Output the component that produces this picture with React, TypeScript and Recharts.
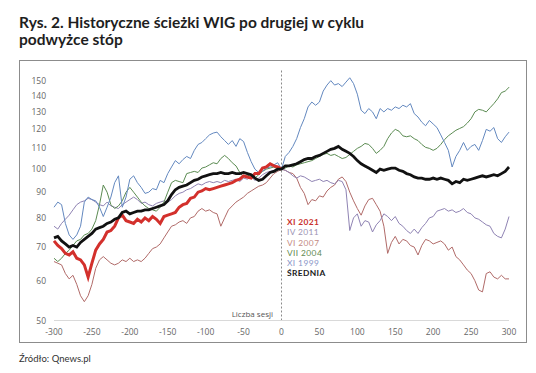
import React from 'react';
import { LineChart, Line, XAxis, YAxis, ReferenceLine } from 'recharts';

const sessions = [
  -300, -295, -290, -285, -280, -275, -270, -265, -260, -255,
  -250, -245, -240, -235, -230, -225, -220, -215, -210, -205,
  -200, -195, -190, -185, -180, -175, -170, -165, -160, -155,
  -150, -145, -140, -135, -130, -125, -120, -115, -110, -105,
  -100, -95, -90, -85, -80, -75, -70, -65, -60, -55,
  -50, -45, -40, -35, -30, -25, -20, -15, -10, -5,
  0, 5, 10, 15, 20, 25, 30, 35, 40, 45,
  50, 55, 60, 65, 70, 75, 80, 85, 90, 95,
  100, 105, 110, 115, 120, 125, 130, 135, 140, 145,
  150, 155, 160, 165, 170, 175, 180, 185, 190, 195,
  200, 205, 210, 215, 220, 225, 230, 235, 240, 245,
  250, 255, 260, 265, 270, 275, 280, 285, 290, 295,
  300,
];

// XI 2021 (only up to session 0)
const xi2021 = [
  72, 70.5, 69.5, 68, 67.5, 68.5, 66.5, 66, 64.5, 61,
  65, 69, 71, 72.5, 75, 75.5, 77, 80, 81, 79,
  78.5, 78, 79.5, 78.5, 80, 79, 80.5, 79.5, 78, 80.5,
  81, 81.5, 82, 84, 85, 85.5, 87.5, 88, 90, 90.5,
  91.5, 91, 91.5, 92, 92.5, 93, 93.5, 94, 95, 95.5,
  97, 96.5, 96, 98, 98, 100.5, 101, 102.5, 101.5, 101,
  100,
];

const iv2011 = [
  77, 76, 78, 79.5, 81, 83, 85, 86, 86.5, 87.5,
  87, 86, 85, 84.5, 86, 84.5, 84, 83.5, 85, 86,
  87, 88, 87, 85.5, 86, 85, 84.5, 85.5, 86, 86.5,
  86, 87, 88.5, 89.5, 90, 91, 91.5, 92.5, 93.5, 93,
  94, 94.5, 94, 94.5, 94, 95, 94.5, 95, 95.5, 94.5,
  96, 95.5, 96.5, 95, 96, 97.5, 98.5, 99, 99.5, 100.5,
  100,
  99.5, 98.5, 97, 96, 97, 96.5, 95.5, 94.5, 95, 95.5,
  94.5, 95, 94, 93.5, 95, 94.5, 91, 75.5, 80, 81.5,
  77, 79, 78.5, 75, 77.5, 79, 81.5, 80.5, 79, 80.5,
  78, 77, 75.5, 74.5, 76, 74.5, 76.5, 78, 80, 80.5,
  82.5, 83, 83.5, 82.5, 83, 82, 82.5, 83.5, 82, 81.5,
  80, 79.5, 78.5, 77.5, 77, 74.5, 73.5, 73, 76, 80.5,
];

const vi2007 = [
  65.5, 65, 64.5, 62, 60.5, 61.5, 59, 56, 54.5, 56,
  59, 63.5, 66, 67, 66, 65, 64.5, 65, 66, 65.5,
  66.5, 65.5, 66, 65.5, 66.5, 68, 69.5, 70, 71, 73,
  75, 77, 77.5, 78.5, 79, 78, 80, 80.5, 82.5, 83.5,
  82.5, 83, 82, 81.5, 77, 80, 83, 84.5, 86, 87,
  88, 89.5, 90.5, 91.5, 92.5, 93, 94, 96, 98, 99,
  100,
  99.5, 98.5, 98, 96, 92, 89.5, 85, 87, 86.5, 88.5,
  88, 90.5, 92, 93, 95.5, 96.5, 94.5, 90, 86.5, 83.5,
  81, 84.5, 87, 87.5, 85, 82.5, 77, 68, 71.5, 73.5,
  71, 72.5, 72, 70.5, 70, 67.5, 70.5, 72.5, 72, 71,
  71.5, 72, 71, 69, 70, 67, 66, 64.5, 63, 62,
  60, 57.5, 57, 62, 62.5, 61, 60.5, 61.5, 60.5, 60.5,
];

const vii2004 = [
  66.5, 65.5, 66.5, 68, 69, 70.5, 72, 72.5, 74, 74.5,
  76, 79, 85, 93, 90, 85, 83.5, 84.5, 86.5, 90,
  92, 90, 88, 86, 84.5, 83.5, 83, 82.5, 84, 86,
  90, 94, 95, 94.5, 94, 98, 98.5, 99, 98.5, 100.5,
  101, 102, 103, 102.5, 105, 106.5, 105, 103, 101.5, 98.5,
  96.5, 97, 97.5, 96, 97.5, 99, 100, 100.5, 101, 100,
  100,
  100.5, 101.5, 101, 102, 102.5, 103, 103.5, 104, 105, 106,
  107, 107.5, 106.5, 107, 106, 105, 105.5, 107, 108.5, 110,
  111, 112.5, 112, 110, 107.5, 109, 111, 115, 118, 120,
  119, 116.5, 116, 116.5, 115, 114, 112, 110.5, 110, 109,
  110, 112, 114.5, 116.5, 118, 119.5, 120.5, 121.5, 123.5, 126,
  130, 131.5, 131, 130, 132.5, 135, 138, 142, 143, 145.5,
];

const xi1999 = [
  84, 86, 85, 78, 74, 72.5, 74, 77, 86, 88,
  87, 86.5, 84, 80.5, 84, 88, 94, 97, 84, 88,
  95.5, 97, 94, 92, 89.5, 90, 91.5, 91, 95, 94,
  98, 101, 104, 102.5, 104.5, 106, 105, 109, 112, 113,
  115, 117, 118, 118.5, 116, 114, 112, 114, 111, 115,
  113.5, 108, 103.5, 100, 98.5, 99, 100.5, 101, 102, 103,
  100,
  106, 108, 111, 115, 121, 126, 133, 136, 134, 136,
  143, 147, 150, 147, 148, 146, 149, 152, 148, 141,
  131, 129, 132, 130, 126, 132, 130, 132, 131, 133,
  132, 134, 133, 135, 129, 127, 124, 122, 125, 123,
  121, 117, 113, 109, 101, 106, 109, 113, 109, 111,
  112, 109, 114, 120, 119, 121, 115, 113, 116, 118.5,
];

const srednia = [
  73, 73.5, 72, 71, 70, 70.5, 70, 71.5, 72.5, 73.5,
  74.5, 76, 76.5, 77, 78, 78.5, 79.5, 80, 82, 82.5,
  81.5, 82, 82.5, 82.5, 83, 83, 83.5, 84, 84.5, 85,
  86.5, 89, 91, 92, 92.5, 93, 94, 95, 95.5, 96.5,
  97, 97.5, 98, 98, 98.5, 98, 98, 98.5, 98, 98,
  98.5, 98, 97.5, 96, 95, 95.5, 97, 98.5, 99, 100,
  100,
  101.5, 101.5, 102, 102.5, 103.5, 104.5, 105, 105, 106, 106.5,
  107.5, 108.5, 109.5, 110, 111, 109.5, 108.5, 107.5, 106, 104,
  102.5, 101.5, 100.5, 99.5, 98.5, 100, 99.5, 100, 100.5, 100.5,
  99.5, 99, 98, 97.5, 96.5, 96, 96, 95.5, 95.5, 96,
  95.5, 96, 95.5, 95, 93.5, 94.5, 94, 95.5, 95, 95.5,
  96, 96.5, 97, 96.5, 97, 97.5, 97, 98, 99, 101,
];

const xTicks = [-300, -250, -200, -150, -100, -50, 0, 50, 100, 150, 200, 250, 300];
const yTicks = [50, 60, 70, 80, 90, 100, 110, 120, 130, 140, 150];

const legendLabels = ['XI 2021', 'IV 2011', 'VI 2007', 'VII 2004', 'XI 1999', 'ŚREDNIA'];
const legendColors = ['#c9302c', '#9c93b4', '#c48a84', '#5f8a4f', '#8a96c8', '#1a1a1a'];
const legendBold = [true, false, false, false, false, true];

const rows = sessions.map((s, i) => ({
  s,
  xi2021: i < xi2021.length ? xi2021[i] : undefined,
  iv2011: iv2011[i],
  vi2007: vi2007[i],
  vii2004: vii2004[i],
  xi1999: xi1999[i],
  srednia: srednia[i],
}));

const tickFont = { fontSize: 8.5, fill: '#666', fontFamily: '"Open Sans", sans-serif' };

export default function App() {
  return (
    <div style={{ position: 'absolute', left: 0, top: 0, width: 536, height: 373, background: '#fff', overflow: 'hidden' }}>
      <div
        style={{
          position: 'absolute', left: 19, top: 14, fontFamily: 'Lato, sans-serif', fontWeight: 700,
          fontSize: 15.5, lineHeight: '17px', color: '#1e1e1e', whiteSpace: 'nowrap',
        }}
      >
        Rys. 2. Historyczne ścieżki WIG po drugiej w cyklu
        <br />
        podwyżce stóp
      </div>
      <div
        style={{
          position: 'absolute', left: 19, top: 60, width: 508, height: 283,
          border: '1px solid #8c8c8c', boxSizing: 'border-box',
        }}
      />
      <div style={{ position: 'absolute', left: 0, top: 0 }}>
        <LineChart width={536} height={373} data={rows} margin={{ top: 70, right: 27, bottom: 32.5, left: 14 }}>
          <XAxis
            dataKey="s"
            type="number"
            domain={[-300, 300]}
            ticks={xTicks}
            tickLine={false}
            axisLine={{ stroke: '#d9d9d9' }}
            tick={tickFont}
            height={20}
            interval={0}
          />
          <YAxis
            scale="log"
            domain={[50, 157.5]}
            ticks={yTicks}
            allowDataOverflow
            tickLine={false}
            axisLine={false}
            tick={tickFont}
            width={40}
            interval={0}
          />
          <ReferenceLine x={0} stroke="#8a8a8a" strokeDasharray="2 2" strokeWidth={1} />
          <Line dataKey="vi2007" stroke="#b06a68" strokeWidth={1} dot={false} isAnimationActive={false} type="linear" />
          <Line dataKey="iv2011" stroke="#8f83b3" strokeWidth={1} dot={false} isAnimationActive={false} type="linear" />
          <Line dataKey="vii2004" stroke="#5b8b52" strokeWidth={1} dot={false} isAnimationActive={false} type="linear" />
          <Line dataKey="xi1999" stroke="#6388bf" strokeWidth={1} dot={false} isAnimationActive={false} type="linear" />
          <Line dataKey="xi2021" stroke="#d3302c" strokeWidth={3} dot={false} isAnimationActive={false} type="linear" />
          <Line dataKey="srednia" stroke="#111" strokeWidth={2.8} dot={false} isAnimationActive={false} type="linear" />
        </LineChart>
      </div>
      <div
        style={{
          position: 'absolute', left: 200, width: 73, top: 308, textAlign: 'right',
          fontFamily: '"Open Sans", sans-serif', fontSize: 8, lineHeight: '12px', color: '#555',
        }}
      >
        Liczba sesji
      </div>
      {legendLabels.map((l, i) => (
        <div
          key={l}
          style={{
            position: 'absolute', left: 287, top: 217 + i * 10.25, fontFamily: 'Lato, sans-serif',
            fontSize: 8.4, lineHeight: '10px', letterSpacing: 0.4, color: legendColors[i],
            fontWeight: legendBold[i] ? 700 : 400, whiteSpace: 'nowrap',
          }}
        >
          {l}
        </div>
      ))}
      <div
        style={{
          position: 'absolute', left: 19, top: 352, fontFamily: 'Lato, sans-serif', fontSize: 9.5,
          lineHeight: '14px', color: '#333',
        }}
      >
        Źródło: Qnews.pl
      </div>
    </div>
  );
}
